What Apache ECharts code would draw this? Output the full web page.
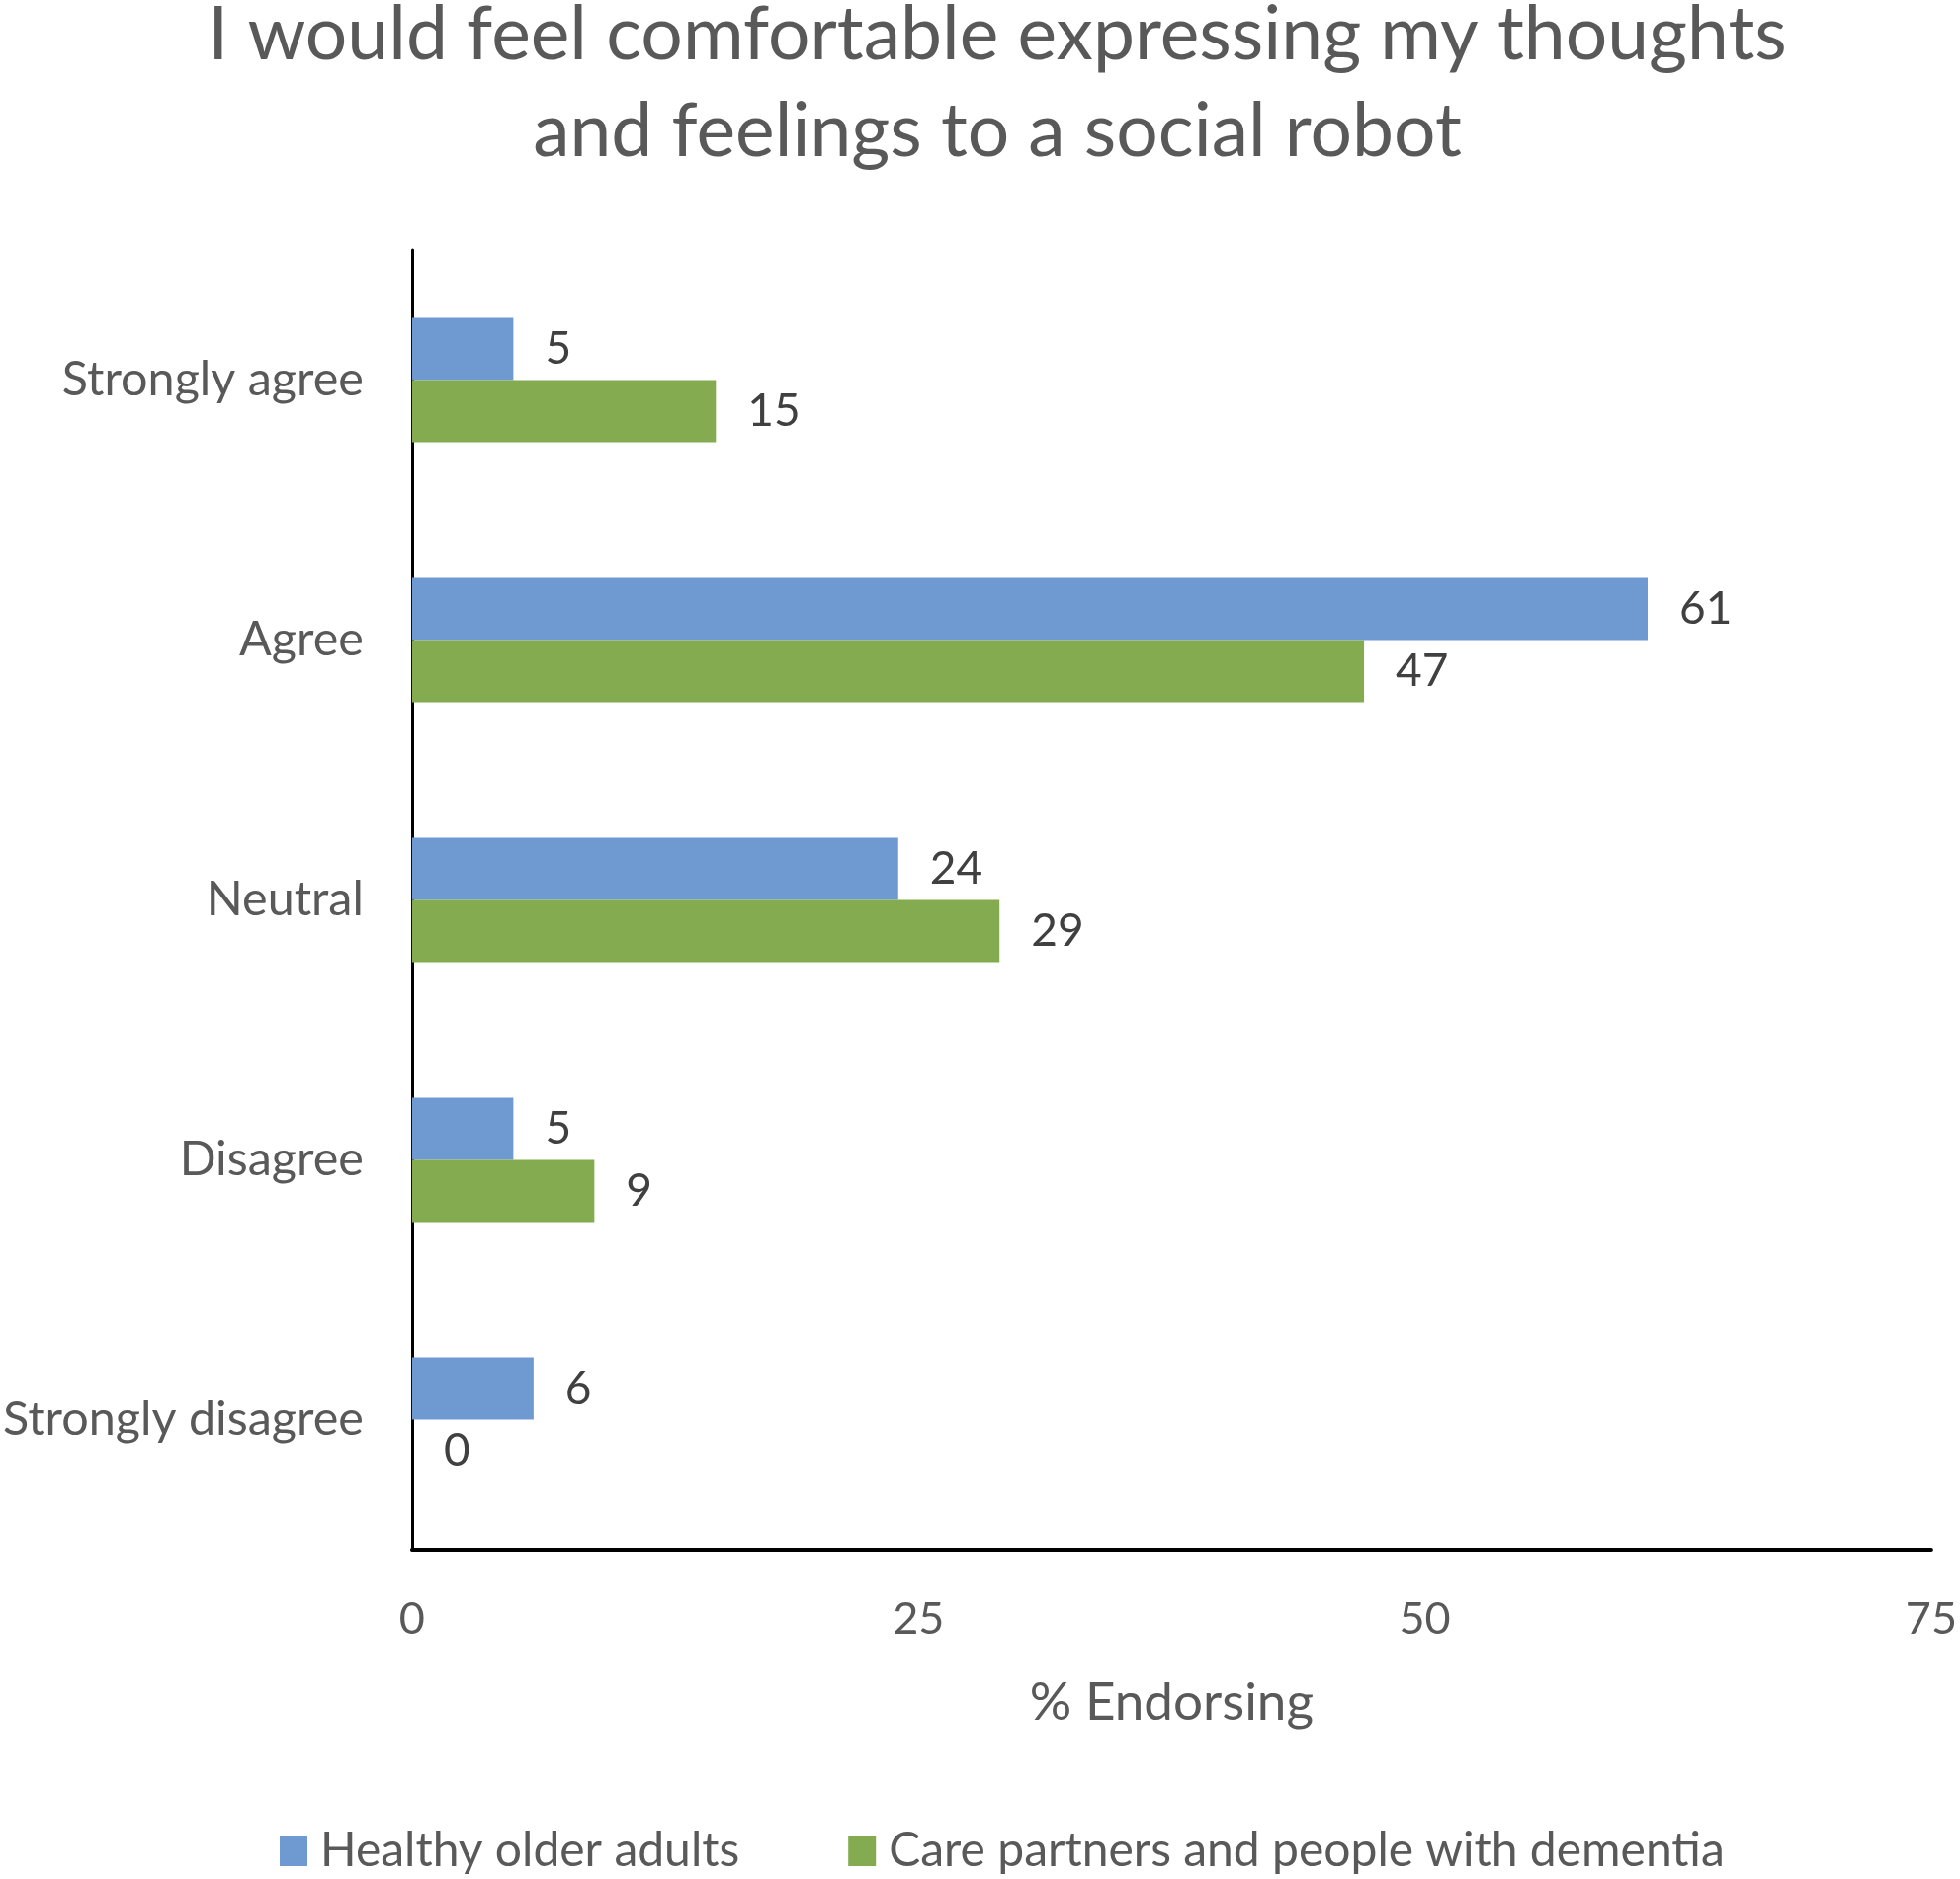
<!DOCTYPE html>
<html>
<head>
<meta charset="utf-8">
<script src="https://cdn.jsdelivr.net/npm/echarts@6/dist/echarts.min.js"></script>
<style>
  html, body { margin: 0; padding: 0; background: #fff; }
  #chart { width: 1983px; height: 1901px; }
</style>
</head>
<body>
<div id="chart"></div>
<script>
const categories = ['Strongly agree', 'Agree', 'Neutral', 'Disagree', 'Strongly disagree']
const healthyOlder = [5, 61, 24, 5, 6]
const carePartners = [15, 47, 29, 9, 0]
const xTicks = { min: 0, max: 75, interval: 25 }

const FONT = 'Lato'
const GREY = '#595959'

const chart = echarts.init(document.getElementById('chart'))

// value labels sit a little way right of each bar end
function barLabel() {
  return {
    show: true,
    position: 'right',
    distance: 32,
    fontFamily: FONT,
    fontSize: 46,
    color: '#404040',
  }
}

chart.setOption({
  backgroundColor: '#ffffff',
  animation: false,
  title: {
    text: 'I would feel comfortable expressing my thoughts\nand feelings to a social robot',
    left: 1004,
    textAlign: 'center',
    top: -18,
    textStyle: {
      fontFamily: FONT,
      fontSize: 75,
      fontWeight: 'normal',
      color: GREY,
      lineHeight: 98,
    },
  },
  legend: {
    left: 278,
    top: 1844,
    itemWidth: 28,
    itemHeight: 30,
    itemGap: 110,
    icon: 'rect',
    textStyle: {
      fontFamily: FONT,
      fontSize: 48,
      color: GREY,
      padding: [0, 0, 0, 8],
    },
  },
  grid: {
    left: 414,
    right: 28,
    top: 253,
    bottom: 333,
    containLabel: false,
  },
  xAxis: {
    type: 'value',
    min: xTicks.min,
    max: xTicks.max,
    interval: xTicks.interval,
    name: '% Endorsing',
    nameLocation: 'middle',
    nameGap: 128,
    nameTextStyle: { fontFamily: FONT, fontSize: 53, color: GREY },
    axisLine: { show: true, lineStyle: { color: '#000', width: 4 } },
    axisTick: { show: false },
    splitLine: { show: false },
    axisLabel: { margin: 48, fontFamily: FONT, fontSize: 45, color: GREY },
  },
  yAxis: {
    type: 'category',
    inverse: true,
    data: categories,
    axisLine: { show: true, lineStyle: { color: '#000', width: 3 } },
    axisTick: { show: false },
    axisLabel: { margin: 49, fontFamily: FONT, fontSize: 48.5, color: GREY },
  },
  series: [
    {
      name: 'Healthy older adults',
      type: 'bar',
      data: healthyOlder,
      barGap: '0%',
      barCategoryGap: '52%',
      itemStyle: { color: '#6f99d1' },
      label: barLabel(),
    },
    {
      name: 'Care partners and people with dementia',
      type: 'bar',
      data: carePartners,
      barGap: '0%',
      barCategoryGap: '52%',
      itemStyle: { color: '#84ab4f' },
      label: barLabel(),
    },
  ],
})
</script>
</body>
</html>
